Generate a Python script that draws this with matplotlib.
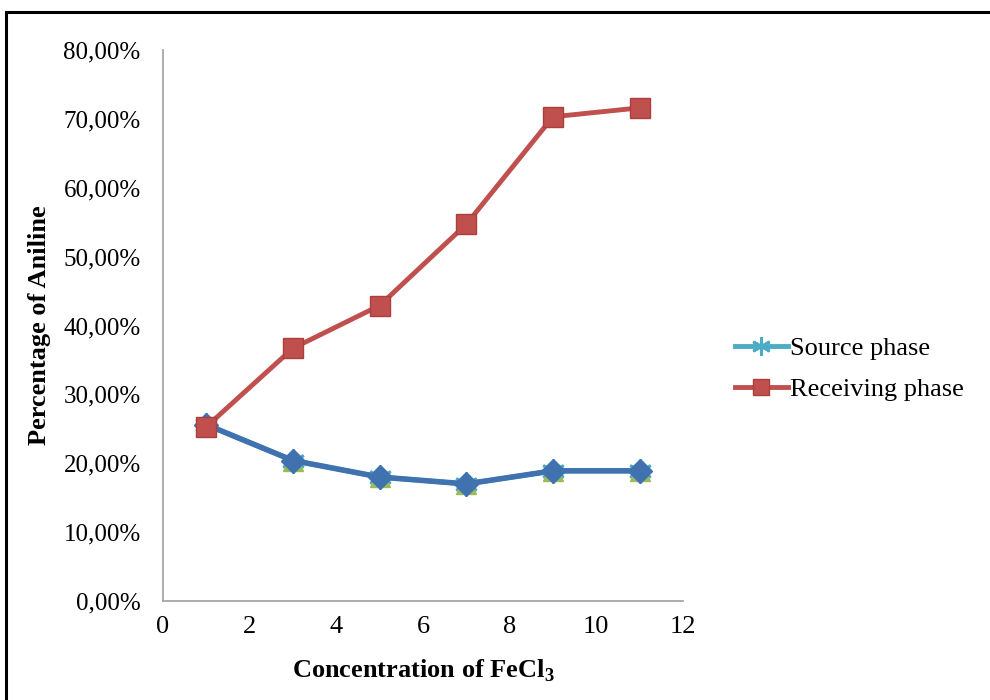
import matplotlib.pyplot as plt
from matplotlib.patches import Rectangle
from matplotlib.ticker import FuncFormatter

plt.rcParams['font.family'] = ['Liberation Serif', 'DejaVu Serif']

conc = [1, 3, 5, 7, 9, 11]
source = [25.6, 20.4, 18.0, 17.0, 18.9, 18.9]
receiving = [25.3, 36.7, 42.9, 54.7, 70.3, 71.6]
yticks = [0, 10, 20, 30, 40, 50, 60, 70, 80]
xticks = [0, 2, 4, 6, 8, 10, 12]

fig = plt.figure(figsize=(9.9, 7), dpi=100)
ax = fig.add_axes([0.1646, 0.1414, 0.5253, 0.7872])

# excel-style overlapped series (only two in legend)
ax.plot(conc, source, color='#4BACC6', lw=3.5, marker=(6, 2, 0), ms=17,
        mec='#4BACC6', mew=2, label='Source phase', zorder=3)
ax.plot(conc, source, color='#9BBB59', lw=0, marker='^', ms=14,
        mec='#9BBB59', zorder=4)
ax.plot(conc, source, color='#3F72AF', lw=4, marker='D', ms=12,
        mec='#3F72AF', zorder=5)
ax.plot(conc, receiving, color='#C0504D', lw=3.5, marker='s', ms=14,
        mec='#A9403D', label='Receiving phase', zorder=6)

ax.set_xlim(0, 12)
ax.set_ylim(0, 80)
ax.set_xticks(xticks)
ax.set_yticks(yticks)
ax.yaxis.set_major_formatter(FuncFormatter(lambda v, p: f'{v:.2f}%'.replace('.', ',')))
ax.tick_params(axis='y', length=0, labelsize=18, pad=16)
ax.tick_params(axis='x', length=0, labelsize=19, pad=11)
for s in ['top', 'right']:
    ax.spines[s].set_visible(False)
for s in ['left', 'bottom']:
    ax.spines[s].set_color('#A6A6A6')
    ax.spines[s].set_linewidth(1.3)

ax.set_xlabel('Concentration of FeCl$_\\mathregular{3}$', fontsize=19,
              fontweight='bold', labelpad=14)
ax.set_ylabel('Percentage of Aniline', fontsize=19, fontweight='bold', labelpad=9)

ax.legend(loc='center left', bbox_to_anchor=(1.1, 0.421), frameon=False,
          fontsize=19, handlelength=2.0, handletextpad=0.1, labelspacing=0.65,
          borderpad=0, borderaxespad=0, markerscale=0.8)

fig.patches.append(Rectangle((6 / 990, -0.05), 1.2, 1.05 - 12 / 700,
                             transform=fig.transFigure, fill=False,
                             ec='black', lw=2.2))

fig.savefig('out.png', dpi=100)
